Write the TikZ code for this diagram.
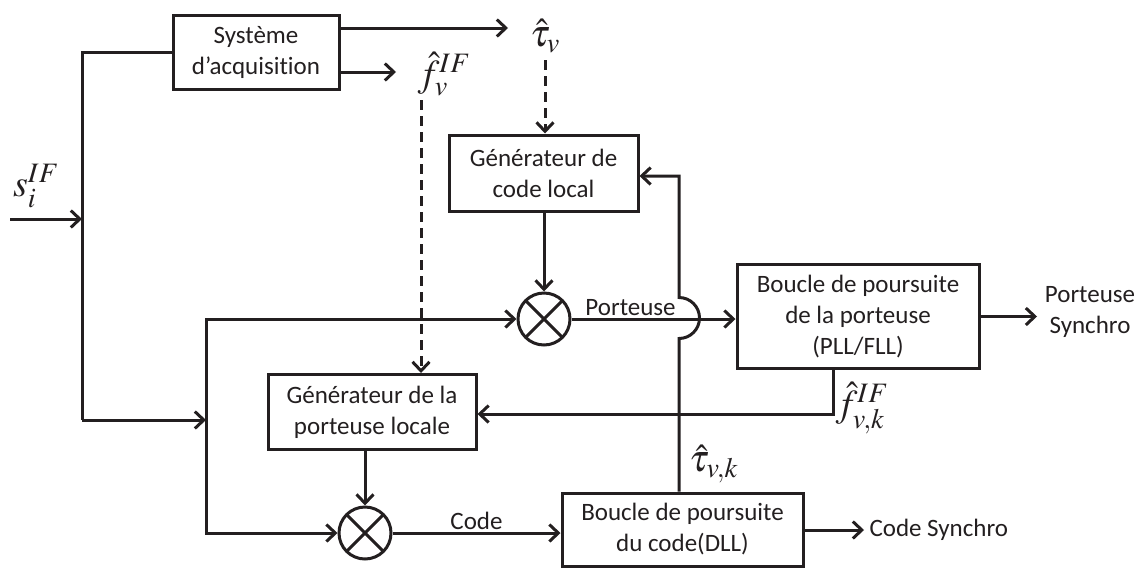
\documentclass[tikz,border=0pt]{standalone}
\usepackage{mathptmx}
\usepackage{fontspec}
\setmainfont{Carlito}[Ligatures=NoCommon]
\usetikzlibrary{arrows.meta,calc}
\definecolor{ink}{RGB}{35,31,32}
\begin{document}
\begin{tikzpicture}[x=1pt,y=-1pt,
  color=ink,
  line width=3pt,
  tip/.style={-{Straight Barb[length=9pt,width=17pt,line width=3pt]}},
  dtip/.style={-{Straight Barb[length=9pt,width=17pt,line width=3pt]},dash pattern=on 10pt off 6pt},
  box/.style={draw=ink,line width=3pt,align=center,inner sep=0pt,text=ink,
    font=\fontsize{25}{31}\selectfont},
  txt/.style={text=ink,align=center,inner sep=4pt,font=\fontsize{25}{31}\selectfont},
  lbl/.style={text=ink,inner sep=0pt,font=\fontsize{38}{44}\selectfont},
  mult/.style={circle,draw=ink,line width=3pt,minimum size=52pt,inner sep=0pt,
    path picture={\draw[line width=3pt,draw=ink]
      (path picture bounding box.north west) -- (path picture bounding box.south east)
      (path picture bounding box.north east) -- (path picture bounding box.south west);}}
]
\useasboundingbox (0,0) rectangle (1139,568);

% blocks
\node[box,minimum width=166pt,minimum height=74pt] (acq) at (256,52) {Système\\d’acquisition};
\node[box,minimum width=189pt,minimum height=76pt] (gcl) at (543.5,173) {Générateur de\\code local};
\node[box,minimum width=208pt,minimum height=75pt] (gpl) at (372,412) {Générateur de la\\porteuse locale};
\node[box,minimum width=242pt,minimum height=104pt] (pll) at (858,316.5) {Boucle de poursuite\\de la porteuse\\(PLL/FLL)};
\node[box,minimum width=241pt,minimum height=73pt] (dll) at (682.5,529.5) {Boucle de poursuite\\du code(DLL)};
\node[mult] (m1) at (544,319) {};
\node[mult] (m2) at (365,533) {};

% labels
\node[lbl] (sif) at (36,186) {$s_i^{IF}$};
\node[lbl] (tauv) at (545,36) {$\hat{\tau}_v$};
\node[lbl] (fv) at (444,74) {$\hat{f}_v^{IF}$};
\node[lbl] (fvk) at (862,408) {$\hat{f}_{v,k}^{IF}$};
\node[lbl] (tvk) at (714,464) {$\hat{\tau}_{v,k}$};
\node[txt] (ps) at (1090,312) {Porteuse\\Synchro};
\node[txt,anchor=west] (cs) at (864,530) {Code Synchro};

% coordinates
\coordinate (in) at (10,219);
\coordinate (j1) at (82,52);
\coordinate (j2) at (82,420);
\coordinate (j3) at (206,420);
\coordinate (a1) at (508,28);
\coordinate (a2) at (396,72);
\coordinate (d1) at (421,100);
\coordinate (d2) at (545,60);
\coordinate (v) at (679,318);
\coordinate (f1) at (833,414);

% input
\draw[tip] (in) -- (in -| j1);
\draw (acq.west) -- (j1) -- (j2);
\draw[tip] (j2) -- (j3);
\draw[{Straight Barb[length=9pt,width=17pt,line width=3pt]}-{Straight Barb[length=9pt,width=17pt,line width=3pt]}]
  (m1.west) -| (j3) |- (m2.west);

% acquisition outputs
\draw[tip] (acq.east |- a1) -- (a1);
\draw[tip] (acq.east |- a2) -- (a2);
\draw[dtip] (d2) -- (d2 |- gcl.north);
\draw[dtip] (d1) -- (d1 |- gpl.north);

% middle
\draw[tip] (gcl.south -| m1) -- (m1.north);
\draw[tip] (gpl.south -| m2) -- (m2.north);
\draw[tip] (m1.east) -- node[txt,pos=0.36,above,yshift=-2pt] (lp) {Porteuse} (pll.west |- m1);
\draw[tip] (m2.east) -- node[txt,pos=0.5,above,yshift=-2pt] (lc) {Code} (dll.west |- m2);
\draw[tip] (dll.north -| v) -- ($(v)+(0,20.5)$)
  arc[start angle=90,end angle=-90,radius=20.5] -- (v |- 0,176) -- (gcl.east |- 0,176);
\draw[tip] (pll.south -| f1) |- (gpl.east |- f1);

% outputs
\draw[tip] (pll.east) -- (pll.east -| 1037,0);
\draw[tip] (dll.east |- cs) -- (cs.west);
\end{tikzpicture}
\end{document}
